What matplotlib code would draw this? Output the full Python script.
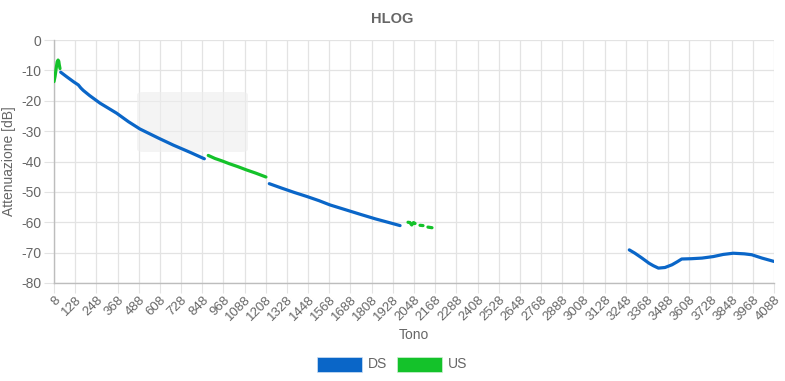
import numpy as np
import matplotlib.pyplot as plt
from matplotlib.patches import FancyBboxPatch

plt.rcParams['font.family'] = ['Liberation Sans', 'DejaVu Sans']

# US band 1
us1_tone = [8, 14, 20, 26, 31, 35, 38, 42]
us1_db = [-13.7, -12.0, -9.5, -7.2, -6.6, -7.0, -8.2, -9.4]

# DS band 1
ds1_tone = [46, 80, 120, 146, 160, 174, 210, 269, 363, 430, 495, 600, 684, 780, 860]
ds1_db = [-10.6, -12.1, -13.8, -14.8, -15.8, -16.6, -18.3, -20.8, -24.1, -26.9, -29.3, -32.3, -34.6, -37.0, -39.1]

# US band 2
us2_tone = [882, 920, 960, 1000, 1050, 1100, 1150, 1209]
us2_db = [-38.0, -39.0, -39.8, -40.7, -41.7, -42.8, -43.8, -45.1]

# DS band 2
ds2_tone = [1228, 1300, 1370, 1440, 1510, 1572, 1650, 1750, 1830, 1900, 1969]
ds2_db = [-47.3, -48.8, -50.2, -51.5, -52.9, -54.3, -55.7, -57.5, -58.9, -60.0, -61.1]

# US band 3 (broken)
us3_tone = [2014, 2025, 2035, 2045, 2054, 2065, 2082, 2099, 2112, 2127, 2150]
us3_db = [-60.0, -60.1, -60.9, -60.1, -60.4, np.nan, -61.0, -61.1, np.nan, -61.6, -61.8]

# DS band 3
ds3_tone = [3268, 3300, 3340, 3380, 3404, 3433, 3470, 3510, 3540, 3565, 3620,
            3680, 3744, 3800, 3857, 3920, 3962, 4020, 4088]
ds3_db = [-69.1, -70.2, -71.8, -73.5, -74.3, -75.1, -74.9, -74.0, -73.0, -72.1, -72.0,
          -71.8, -71.3, -70.6, -70.2, -70.4, -70.7, -71.8, -72.9]

x_ticks = list(range(8, 4089, 120))
y_ticks = list(range(-80, 1, 10))

blue = '#0a66c8'
green = '#14c22a'
grid_c = '#e3e3e3'
text_c = '#666666'

fig = plt.figure(figsize=(7.85, 3.81), dpi=100)
ax = fig.add_axes([54 / 785, 1 - 283 / 381, 720 / 785, 243 / 381])

ax.set_xlim(8, 4088)
ax.set_ylim(-80, 0)
ax.set_xticks(x_ticks)
ax.set_xticklabels([str(t) for t in x_ticks], rotation=45, ha='right',
                   rotation_mode='anchor', fontsize=9.5, color=text_c)
ax.set_yticks(y_ticks)
ax.set_yticklabels([str(t) for t in y_ticks], fontsize=10, color=text_c)
ax.tick_params(axis='both', length=7, color=grid_c, pad=2)
ax.tick_params(axis='x', pad=1)
ax.grid(True, color=grid_c, linewidth=0.9, zorder=0)
ax.set_axisbelow(True)
for s in ['top', 'right']:
    ax.spines[s].set_visible(False)
for s in ['left', 'bottom']:
    ax.spines[s].set_color('#bdbdbd')
    ax.spines[s].set_linewidth(1)

# faded tooltip box, under the lines
box = FancyBboxPatch((137 / 785, 1 - 152 / 381), 111 / 785, 60 / 381,
                     boxstyle='round,pad=0,rounding_size=0.008',
                     transform=fig.transFigure, facecolor='#eeeeee', alpha=0.6,
                     edgecolor='none', zorder=1, clip_on=False)
ax.add_patch(box)

lw = 2.3
kw = dict(lw=lw, zorder=3, solid_capstyle='round', solid_joinstyle='round')
ax.plot(ds1_tone, ds1_db, color=blue, **kw)
ax.plot(ds2_tone, ds2_db, color=blue, **kw)
ax.plot(ds3_tone, ds3_db, color=blue, **kw)
ax.plot(us1_tone, us1_db, color=green, **kw)
ax.plot(us2_tone, us2_db, color=green, **kw)
ax.plot(us3_tone, us3_db, color=green, **kw)

ax.set_xlabel('Tono', fontsize=10, color=text_c, labelpad=3)
ax.set_ylabel('Attenuazione [dB]', fontsize=10, color=text_c, labelpad=4)
fig.text(0.5, 1 - 19 / 381, 'HLOG', ha='center', va='center', fontsize=10.5,
         fontweight='bold', color=text_c)

# legend
fig.patches.append(plt.Rectangle((317 / 785, 1 - 372 / 381), 45 / 785, 15 / 381,
                                 transform=fig.transFigure, facecolor=blue,
                                 edgecolor='#cfe0f3', lw=0.5))
fig.text(368 / 785, 1 - 364 / 381, 'DS', ha='left', va='center', fontsize=10, color=text_c)
fig.patches.append(plt.Rectangle((397 / 785, 1 - 372 / 381), 45 / 785, 15 / 381,
                                 transform=fig.transFigure, facecolor=green,
                                 edgecolor='#d0f0d4', lw=0.5))
fig.text(448 / 785, 1 - 364 / 381, 'US', ha='left', va='center', fontsize=10, color=text_c)

fig.savefig('out.png', dpi=100, facecolor='white')
